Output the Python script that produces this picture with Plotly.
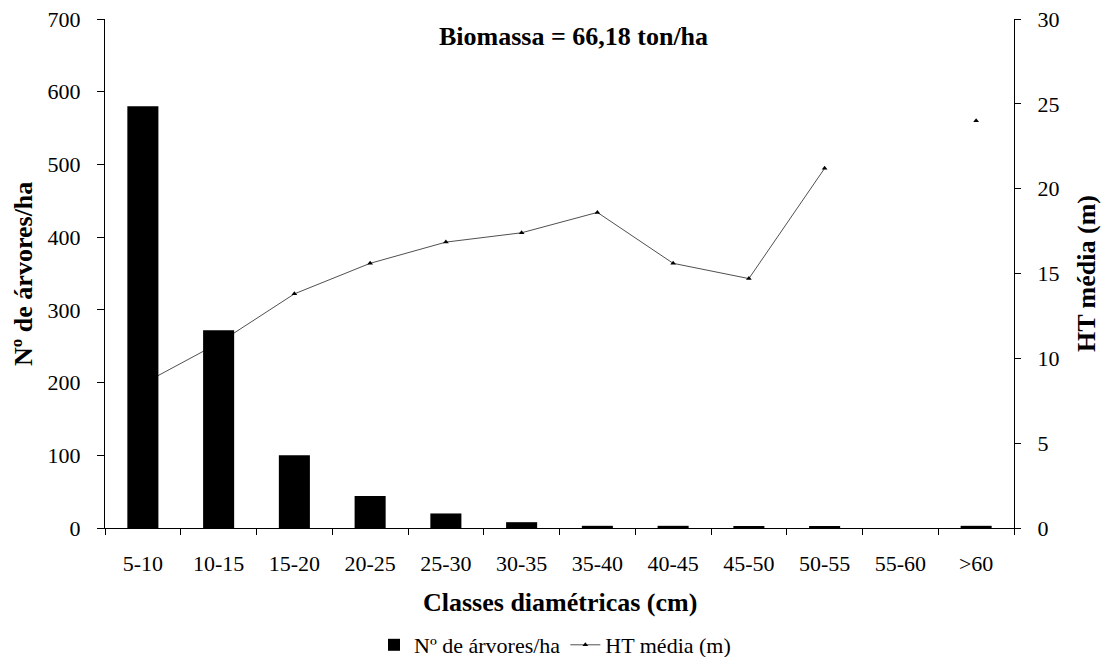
import plotly.graph_objects as go

categories = ["5-10", "10-15", "15-20", "20-25", "25-30", "30-35", "35-40",
              "40-45", "45-50", "50-55", "55-60", ">60"]
n_arvores = [580, 272, 100, 44, 20, 8, 3, 3, 2, 2, 0, 3]
ht_media = [8.5, 10.9, 13.8, 15.6, 16.85, 17.4, 18.6, 15.6, 14.7, 21.2, None, 24.0]

FONT = "Liberation Serif"
TICK = 22
TITLE = 26

L, R, T, B = 105, 88, 19, 129
W, H = 1102, 657
PW = W - L - R
PH = H - T - B

def px_x(x):
    return (x - L) / PW

def px_y(y):
    return (H - B - y) / PH

fig = go.Figure()
# line on primary (right side) so bars drawn on top of it
fig.add_trace(go.Scatter(
    x=categories, y=ht_media, name="HT média (m)", yaxis="y",
    mode="lines+markers", connectgaps=False,
    line=dict(color="#505050", width=1),
    marker=dict(symbol="triangle-up", size=5, color="black"),
))
fig.add_trace(go.Bar(
    x=categories, y=n_arvores, name="Nº de árvores/ha", yaxis="y2",
    marker=dict(color="black", line=dict(width=0)),
))

fig.update_layout(
    width=W, height=H,
    margin=dict(l=L, r=R, t=T, b=B, autoexpand=False),
    paper_bgcolor="white", plot_bgcolor="white",
    font=dict(family=FONT, size=TICK, color="black"),
    bargap=0.59,
    showlegend=True,
    legend=dict(orientation="h", x=px_x(555), xanchor="center", y=px_y(645), yanchor="middle",
                font=dict(size=TICK), traceorder="reversed", itemwidth=30,
                bgcolor="rgba(0,0,0,0)"),
    xaxis=dict(
        type="category", range=[-0.5, len(categories) - 0.5],
        showline=True, linecolor="black", linewidth=1,
        ticks="outside", ticklen=6, tickcolor="black", tickson="boundaries",
        showgrid=False, tickfont=dict(size=TICK), ticklabelstandoff=16,
    ),
    yaxis=dict(
        side="right", range=[0, 30], dtick=5, showline=True, linecolor="black",
        ticks="outside", ticklen=6, tickcolor="black", showgrid=False, zeroline=False,
        tickfont=dict(size=TICK), ticklabelstandoff=12,
    ),
    yaxis2=dict(
        side="left", overlaying="y", range=[0, 700], dtick=100, showline=True,
        linecolor="black", ticks="outside", ticklen=7, tickcolor="black",
        showgrid=False, zeroline=False, tickfont=dict(size=TICK), ticklabelstandoff=12,
    ),
    annotations=[
        dict(text="<b>Biomassa = 66,18 ton/ha</b>", x=px_x(573), y=px_y(36),
             xref="paper", yref="paper", showarrow=False,
             font=dict(size=TITLE), xanchor="center", yanchor="middle"),
        dict(text="<b>Classes diamétricas (cm)</b>", x=px_x(560), y=px_y(602),
             xref="paper", yref="paper", showarrow=False,
             font=dict(size=TITLE), xanchor="center", yanchor="middle"),
        dict(text="<b>Nº de árvores/ha</b>", x=px_x(23), y=px_y(274),
             xref="paper", yref="paper", showarrow=False, textangle=-90,
             font=dict(size=TITLE), xanchor="center", yanchor="middle"),
        dict(text="<b>HT média (m)</b>", x=px_x(1086), y=px_y(274),
             xref="paper", yref="paper", showarrow=False, textangle=-90,
             font=dict(size=TITLE), xanchor="center", yanchor="middle"),
    ],
)

fig.write_html("out.html")
